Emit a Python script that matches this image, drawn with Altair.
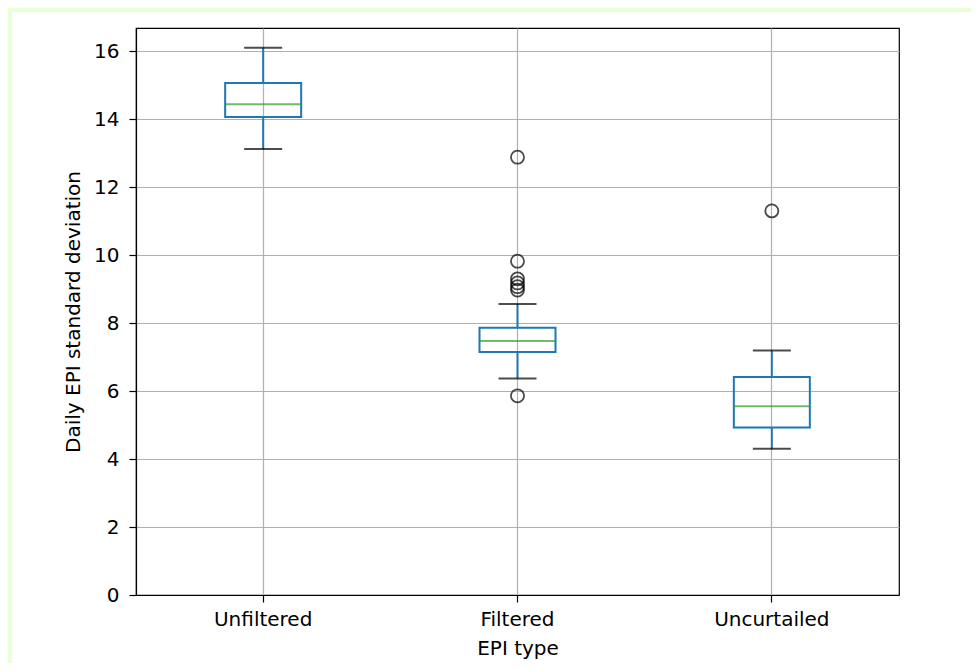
import altair as alt
import pandas as pd

categories = ["Unfiltered", "Filtered", "Uncurtailed"]
whisker_low = [13.12, 6.37, 4.30]
q1 = [14.06, 7.15, 4.93]
median = [14.44, 7.47, 5.55]
q3 = [15.06, 7.86, 6.41]
whisker_high = [16.10, 8.56, 7.19]

outlier_cat = ["Filtered"] * 7 + ["Uncurtailed"]
outlier_val = [12.88, 9.82, 9.30, 9.18, 9.07, 8.97, 5.86, 11.30]

y_ticks = [0, 2, 4, 6, 8, 10, 12, 14, 16]

stats = pd.DataFrame({
    "cat": categories, "wlo": whisker_low, "q1": q1, "med": median,
    "q3": q3, "whi": whisker_high,
})
fliers = pd.DataFrame({"cat": outlier_cat, "val": outlier_val})

W, H = 763, 567
PAD = {"left": 128, "top": 20, "right": 72, "bottom": 68}
BLUE = "#1f77b4"
GREEN = "#2ca02c"

x_enc = alt.X(
    "cat:N", sort=categories, title="EPI type",
    scale=alt.Scale(paddingInner=0, paddingOuter=0),
    axis=alt.Axis(bandPosition=0.5, labelAngle=0, labelPadding=7, titlePadding=9),
)
y_scale = alt.Scale(domain=[0, 16.68], nice=False, zero=False)
y_axis = alt.Axis(values=y_ticks, format="d", labelPadding=10, titlePadding=10)

base = alt.Chart(stats)

box = base.mark_bar(size=76, fillOpacity=0, stroke=BLUE, strokeWidth=2).encode(
    x=x_enc,
    y=alt.Y("q1:Q", scale=y_scale, axis=y_axis, title="Daily EPI standard deviation"),
    y2="q3:Q",
)
whisk_hi = base.mark_rule(color=BLUE, strokeWidth=2).encode(x=x_enc, y=alt.Y("q3:Q", scale=y_scale), y2="whi:Q")
whisk_lo = base.mark_rule(color=BLUE, strokeWidth=2).encode(x=x_enc, y=alt.Y("wlo:Q", scale=y_scale), y2="q1:Q")
cap_hi = base.mark_tick(size=38, thickness=2, color="black").encode(x=x_enc, y=alt.Y("whi:Q", scale=y_scale))
cap_lo = base.mark_tick(size=38, thickness=2, color="black").encode(x=x_enc, y=alt.Y("wlo:Q", scale=y_scale))
med = base.mark_tick(size=76, thickness=2, color=GREEN).encode(x=x_enc, y=alt.Y("med:Q", scale=y_scale))
pts = alt.Chart(fliers).mark_point(shape="circle", filled=False, size=170, strokeWidth=1.8, color="black").encode(
    x=x_enc, y=alt.Y("val:Q", scale=y_scale)
)

# thin light-green page strips (top and left), decoration outside the plot
strip_top = alt.Chart(stats).mark_rect(color="#eaffd8").encode(
    x=alt.value(-PAD["left"]), x2=alt.value(W + PAD["right"]), y=alt.value(-PAD["top"]), y2=alt.value(-PAD["top"] + 4)
)
strip_left = alt.Chart(stats).mark_rect(color="#eaffd8").encode(
    x=alt.value(-PAD["left"]), x2=alt.value(-PAD["left"] + 4), y=alt.value(-PAD["top"]), y2=alt.value(H + PAD["bottom"])
)

chart = alt.layer(
    strip_top, strip_left, whisk_hi, whisk_lo, box, cap_hi, cap_lo, med, pts
).properties(
    width=W, height=H,
    autosize=alt.AutoSizeParams(type="none"),
    padding=PAD,
    background="white",
).configure_view(
    stroke="black", strokeWidth=1.2
).configure_axis(
    labelFont="DejaVu Sans", titleFont="DejaVu Sans",
    labelFontSize=20, titleFontSize=20, titleFontWeight="normal",
    labelColor="black", titleColor="black",
    domainColor="black", domainWidth=1.2, tickColor="black", tickSize=7, tickWidth=1.2,
    grid=True, gridColor="#b0b0b0", gridWidth=1.2,
)

chart.save("out.html", embed_options={"renderer": "svg", "actions": False})
